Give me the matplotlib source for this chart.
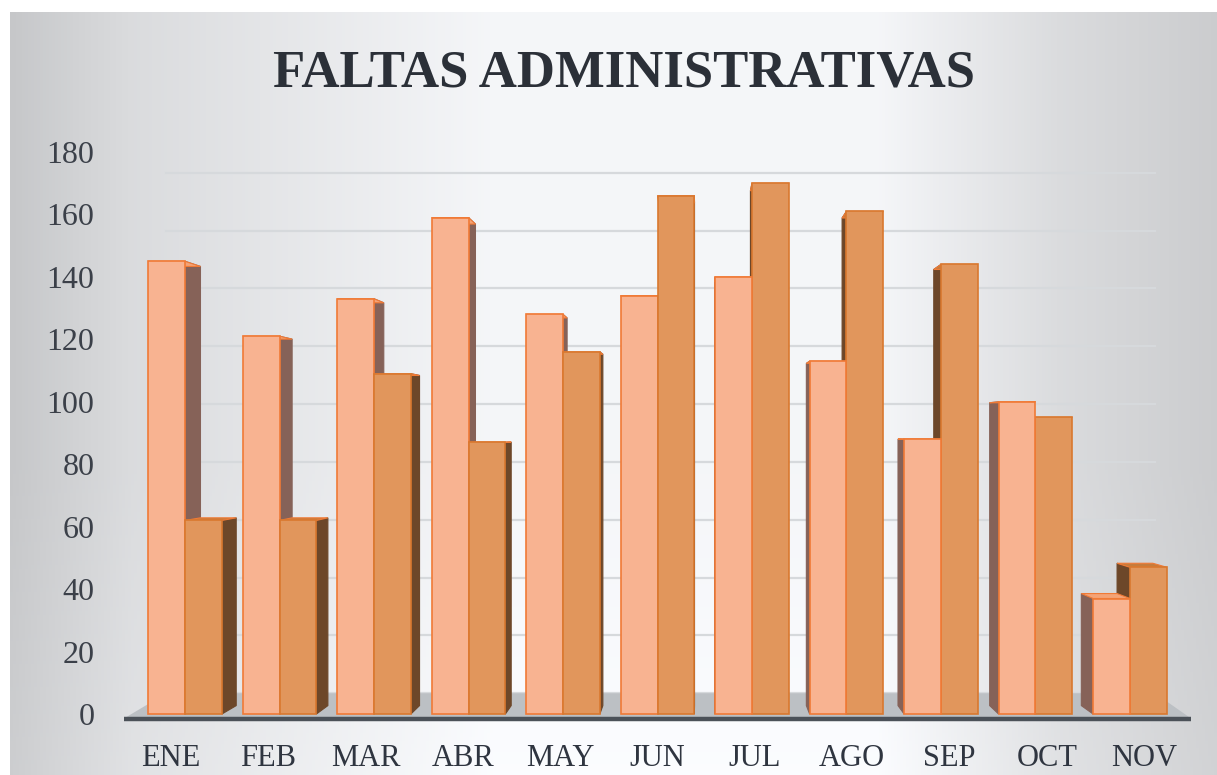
"""
Faltas administrativas por mes - barras agrupadas con efecto 3D
"""

import numpy as np
import matplotlib.pyplot as plt
from matplotlib.patches import Polygon
from matplotlib import font_manager

# datos
meses = ['ENE', 'FEB', 'MAR', 'ABR', 'MAY', 'JUN', 'JUL', 'AGO', 'SEP', 'OCT', 'NOV']
serie_1 = [145, 121, 133, 159, 128, 134, 140, 113, 88, 100, 37]
serie_2 = [62, 62, 109, 87, 116, 166, 170, 161, 144, 95, 47]
y_ticks = [0, 20, 40, 60, 80, 100, 120, 140, 160, 180]

# fuente serif (parecida a Cambria)
nombres = {f.name for f in font_manager.fontManager.ttflist}
serif = 'Liberation Serif' if 'Liberation Serif' in nombres else 'DejaVu Serif'

# perspectiva: punto de fuga y profundidad
XV, YV = 5.45, 90.0
S = 0.03
S_WALL = 0.074
ANCHO = 0.39


def cara_lateral(x_e, h):
    xb = x_e + S * (XV - x_e)
    return [(x_e, 0), (xb, S * YV), (xb, h + S * (YV - h)), (x_e, h)]


def cara_superior(x0, x1, h):
    hb = h + S * (YV - h)
    return [(x0, h), (x1, h), (x1 + S * (XV - x1), hb), (x0 + S * (XV - x0), hb)]


fig = plt.figure(figsize=(12.17, 7.75), dpi=100)
fig.patch.set_facecolor('white')

# fondo con degradado gris
bg = fig.add_axes([10 / 1217, 0, 1 - 10 / 1217, 1 - 12 / 775], zorder=-1)
xs = np.linspace(0, 1, 400)
ys = np.linspace(0, 1, 200)
px = [0.0, 0.10, 0.40, 0.72, 0.87, 1.0]
r = np.interp(xs, px, [0.79, 0.87, 0.975, 0.975, 0.87, 0.81])
base = np.tile(r, (len(ys), 1))
vert = np.interp(ys, [0, 0.6, 1], [0.0, 0.0, 0.025])[:, None]
val = np.clip(base + vert, 0, 1)
img = np.dstack([val * 0.985, val * 0.99, val])
bg.imshow(img, aspect='auto', extent=[0, 1, 0, 1], origin='upper')
bg.axis('off')

# ejes principales
ax = fig.add_axes([123.6 / 1217, 51.6 / 775, (1191.4 - 123.6) / 1217, 587 / 775])
ax.set_facecolor('none')
ax.set_xlim(-0.65, 10.65)
ax.set_ylim(-3, 185)
for sp in ax.spines.values():
    sp.set_visible(False)

# lineas de cuadricula en la pared del fondo
xl = -0.65 + S_WALL * (XV + 0.65)
xr = 10.65 - S_WALL * (10.65 - XV)
for g in y_ticks:
    gb = g + S_WALL * (YV - g)
    ax.plot([xl, xr], [gb, gb], color='#d6d9dc', lw=1.6, zorder=0.5)

# suelo
suelo = Polygon([(-0.65, -1.5), (10.65, -1.5), (xr, S_WALL * YV), (xl, S_WALL * YV)],
                closed=True, facecolor='#bcc0c4', edgecolor='none', zorder=1)
ax.add_patch(suelo)

x = np.arange(len(meses))
claro = ax.bar(x - ANCHO / 2, serie_1, ANCHO, color='#f8b391', edgecolor='#f07a36', lw=1.2)
oscuro = ax.bar(x + ANCHO / 2, serie_2, ANCHO, color='#e1965c', edgecolor='#d9782f', lw=1.2)

for i in range(len(meses)):
    izquierda = i < XV
    z_claro, z_osc = (2, 4) if izquierda else (4, 2)
    for barra, h, z, col_lado, col_top in [
        (claro[i], serie_1[i], z_claro, '#866258', '#f4a376'),
        (oscuro[i], serie_2[i], z_osc, '#6d4729', '#c67c3c'),
    ]:
        x0 = barra.get_x()
        x1 = x0 + barra.get_width()
        x_e = x1 if x1 < XV else x0
        ax.add_patch(Polygon(cara_lateral(x_e, h), closed=True, facecolor=col_lado,
                             edgecolor=col_lado, lw=0.8, zorder=z))
        ax.add_patch(Polygon(cara_superior(x0, x1, h), closed=True, facecolor=col_top,
                             edgecolor='#f07a36', lw=0.8, zorder=z))
        barra.set_zorder(z + 1)

# linea del eje
ax.plot([-0.65, 10.65], [-1.5, -1.5], color='#4b5158', lw=3.2, zorder=8,
        solid_capstyle='butt')

ax.set_yticks(y_ticks)
ax.set_yticklabels([str(t) for t in y_ticks], fontsize=23, family=serif, color='#3b4049')
C = 5
ax.set_xticks([C + 1.03 * (i - C) for i in x])
ax.set_xticklabels(meses, fontsize=22, family=serif, color='#2f3540')
ax.tick_params(axis='y', length=0, pad=21)
ax.tick_params(axis='x', length=0, pad=15)

fig.text(0.513, 0.905, 'FALTAS ADMINISTRATIVAS', ha='center', va='center',
         fontsize=38, fontweight='bold', family=serif, color='#2b3038')

fig.savefig('out.png', dpi=100)
